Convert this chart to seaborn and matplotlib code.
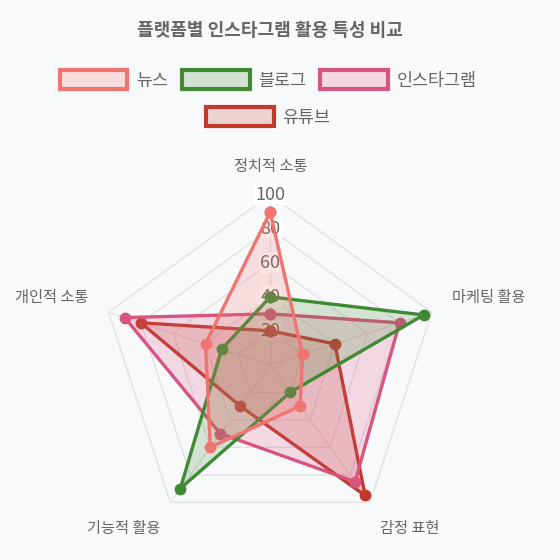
import numpy as np
import matplotlib
matplotlib.use('Agg')
import matplotlib.pyplot as plt
from matplotlib.patches import Patch
import seaborn as sns

# 데이터
categories = ['정치적 소통', '마케팅 활용', '감정 표현', '기능적 활용', '개인적 소통']
series_names = ['뉴스', '블로그', '인스타그램', '유튜브']
news = [90, 20, 30, 60, 40]
blog = [40, 95, 20, 90, 30]
insta = [30, 80, 85, 50, 90]
youtube = [20, 40, 95, 30, 80]
ticks = [20, 40, 60, 80, 100]
colors = ['#f07470', '#3f8a33', '#d8557f', '#c0392b']

sns.set_theme(style='white')
plt.rcParams['font.family'] = ['Noto Sans CJK KR', 'DejaVu Sans']

fig = plt.figure(figsize=(5.6, 5.6), dpi=100, facecolor='#f8f9fb')
ax = fig.add_axes([0.179, 0.045, 0.607, 0.607], projection='polar')
ax.set_facecolor('none')
ax.set_theta_zero_location('N')
ax.set_theta_direction(-1)
ax.set_ylim(0, 100)
ax.grid(False)
ax.spines['polar'].set_visible(False)
ax.set_xticks([])
ax.set_yticks([])

angles = np.linspace(0, 2 * np.pi, len(categories), endpoint=False)
closed = np.append(angles, angles[0])

# 오각형 격자
for t in ticks:
    ax.plot(closed, [t] * len(closed), color='#e2e2e2', lw=1, zorder=1)
for a in angles:
    ax.plot([a, a], [0, ticks[-1]], color='#e2e2e2', lw=1, zorder=1)
for t in ticks:
    ax.text(0, t, str(t), ha='center', va='center', fontsize=13, color='#666666',
            bbox=dict(facecolor='white', edgecolor='none', pad=1), zorder=2)

# 축 라벨 (정렬, 오프셋)
align = [('center', 'bottom', (0, 3)), ('left', 'center', (4, 10)), ('left', 'top', (0, -4)),
         ('right', 'top', (0, -4)), ('right', 'center', (-4, 10))]
for a, lab, (ha, va, off) in zip(angles, categories, align):
    ax.annotate(lab, xy=(a, 110), xytext=off, textcoords='offset pixels', ha=ha, va=va,
                fontsize=11, color='#666666', annotation_clip=False)

# 데이터 (첫 번째 시리즈가 맨 위)
all_series = [news, blog, insta, youtube]
for i in range(len(all_series) - 1, -1, -1):
    vals = np.append(all_series[i], all_series[i][0])
    z = 10 + (len(all_series) - i) * 2
    ax.fill(closed, vals, color=colors[i], alpha=0.2, lw=0, zorder=z)
    ax.plot(closed, vals, color=colors[i], lw=2.4, marker='o', markersize=7.5, zorder=z + 1)

ax.set_ylim(0, 100)

# 범례
handles = [Patch(facecolor=matplotlib.colors.to_rgba(c, 0.2), edgecolor=c, linewidth=3, label=n)
           for c, n in zip(colors, series_names)]
leg_kw = dict(loc='center', frameon=False, fontsize=12.5, handlelength=3.9, handleheight=1.3,
              handletextpad=0.5, columnspacing=0.8, labelcolor='#666666')
fig.legend(handles=handles[:3], ncol=3, bbox_to_anchor=(0.479, 0.857), **leg_kw)
fig.legend(handles=handles[3:], ncol=1, bbox_to_anchor=(0.479, 0.791), **leg_kw)

fig.text(0.482, 1 - 31 / 560, '플랫폼별 인스타그램 활용 특성 비교', ha='center', va='center',
         fontsize=13, fontweight='bold', color='#666666')

fig.savefig('out.png', dpi=100, facecolor=fig.get_facecolor())
